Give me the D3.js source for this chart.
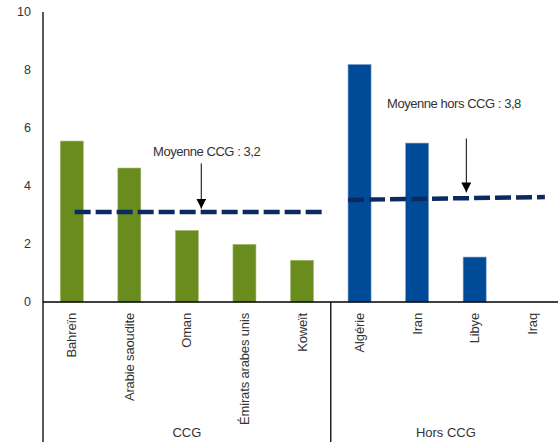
<!DOCTYPE html>
<html>
<head>
<meta charset="utf-8">
<script src="https://cdn.jsdelivr.net/npm/d3@7"></script>
<style>
  body { margin: 0; background: #fff; }
  text { font-family: "Liberation Sans", Arial, sans-serif; fill: #333; }
</style>
</head>
<body>
<div class="chart"></div>
<script>
// data
var countries = ["Bahreïn", "Arabie saoudite", "Oman", "Émirats arabes unis", "Koweït",
                 "Algérie", "Iran", "Libye", "Iraq"];
var values = [5.55, 4.62, 2.47, 1.99, 1.44, 8.19, 5.48, 1.55, 0];
var groupOf = ["CCG", "CCG", "CCG", "CCG", "CCG", "Hors CCG", "Hors CCG", "Hors CCG", "Hors CCG"];
var groups = ["CCG", "Hors CCG"];
var yTicks = [0, 2, 4, 6, 8, 10];
// mean lines (start value, end value)
var meanCCG = [3.1, 3.1];
var meanHors = [3.52, 3.62];
var meanLabels = ["Moyenne CCG : 3,2", "Moyenne hors CCG : 3,8"];

var width = 558, height = 442;
var margin = {top: 12, left: 43, bottom: 140};
var plotRight = 561;

var svg = d3.select(".chart")
  .append("svg")
    .attr("width", width)
    .attr("height", height);

var x = d3.scaleBand()
  .domain(countries)
  .range([margin.left, plotRight])
  .paddingInner(0.6)
  .paddingOuter(0.3);

var y = d3.scaleLinear()
  .domain([0, 10])
  .range([height - margin.bottom, margin.top]);

var step = x.step();
var cx = function(c) { return x(c) + x.bandwidth() / 2; };

// y axis labels
svg.append("g")
  .selectAll("text")
  .data(yTicks)
  .enter().append("text")
    .attr("x", 31)
    .attr("y", function(d) { return y(d); })
    .attr("dy", "0.35em")
    .attr("text-anchor", "end")
    .attr("font-size", 12.5)
    .text(function(d) { return d; });

// bars
svg.append("g")
  .selectAll("rect")
  .data(values)
  .enter().append("rect")
    .attr("x", function(d, i) { return x(countries[i]); })
    .attr("y", function(d) { return y(d); })
    .attr("width", x.bandwidth())
    .attr("height", function(d) { return y(0) - y(d); })
    .attr("fill", function(d, i) { return groupOf[i] == "CCG" ? "#6a8c1f" : "#004b97"; })
    .attr("stroke", function(d, i) { return groupOf[i] == "CCG" ? "#a7bf7a" : "#7f9fcb"; })
    .attr("stroke-width", function(d) { return d > 0 ? 0.6 : 0; });

// axes lines, group separator between Koweït and Algérie
var sepX = margin.left + 5 * step;
svg.append("line")
  .attr("x1", margin.left).attr("x2", margin.left)
  .attr("y1", y(10)).attr("y2", height)
  .attr("stroke", "#000").attr("stroke-width", 1.3);
svg.append("line")
  .attr("x1", margin.left).attr("x2", plotRight)
  .attr("y1", y(0)).attr("y2", y(0))
  .attr("stroke", "#000").attr("stroke-width", 1.3);
svg.append("line")
  .attr("x1", sepX).attr("x2", sepX)
  .attr("y1", y(0)).attr("y2", height)
  .attr("stroke", "#000").attr("stroke-width", 1.3);

// category labels
svg.append("g")
  .selectAll("text")
  .data(countries)
  .enter().append("text")
    .attr("transform", function(d) { return "translate(" + cx(d) + "," + (y(0) + 11) + ") rotate(-90)"; })
    .attr("dy", "0.35em")
    .attr("text-anchor", "end")
    .attr("font-size", 13)
    .attr("letter-spacing", -0.15)
    .text(function(d) { return d; });

// group labels
svg.append("g")
  .selectAll("text")
  .data(groups)
  .enter().append("text")
    .attr("x", function(d, i) { return i == 0 ? (margin.left + sepX) / 2 : (sepX + plotRight) / 2; })
    .attr("y", 437)
    .attr("text-anchor", "middle")
    .attr("font-size", 13)
    .text(function(d) { return d; });

// mean lines
var dashed = function(x1, x2, v) {
  svg.append("line")
    .attr("x1", x1).attr("x2", x2)
    .attr("y1", y(v[0])).attr("y2", y(v[1]))
    .attr("stroke", "#0c2a62")
    .attr("stroke-width", 4.5)
    .attr("stroke-dasharray", "16,5");
};
dashed(cx(countries[0]) + 0.05 * step, cx(countries[4]) + 0.43 * step, meanCCG);
dashed(cx(countries[5]) - 0.2 * step, cx(countries[8]) + 0.22 * step, meanHors);

// arrows
svg.append("defs").append("marker")
  .attr("id", "head")
  .attr("viewBox", "0 0 10 10")
  .attr("refX", 10).attr("refY", 5)
  .attr("markerWidth", 10).attr("markerHeight", 10)
  .attr("markerUnits", "userSpaceOnUse")
  .attr("orient", "auto")
  .append("path")
    .attr("d", "M0,0L10,5L0,10Z")
    .attr("fill", "#000");

var arrow = function(ax, top, tip) {
  svg.append("line")
    .attr("x1", ax).attr("x2", ax)
    .attr("y1", y(top)).attr("y2", y(tip))
    .attr("stroke", "#000").attr("stroke-width", 1)
    .attr("marker-end", "url(#head)");
};
arrow(cx(countries[2]) + 0.25 * step, 4.78, 3.22);
arrow(cx(countries[7]) - 0.145 * step, 5.64, 3.78);

svg.append("text")
  .attr("x", 153).attr("y", y(5.2))
  .attr("dy", "0.35em")
  .attr("font-size", 13)
  .attr("letter-spacing", -0.45)
  .text(meanLabels[0]);
svg.append("text")
  .attr("x", 387).attr("y", y(6.84))
  .attr("dy", "0.35em")
  .attr("font-size", 13)
  .attr("letter-spacing", -0.45)
  .text(meanLabels[1]);
</script>
</body>
</html>
